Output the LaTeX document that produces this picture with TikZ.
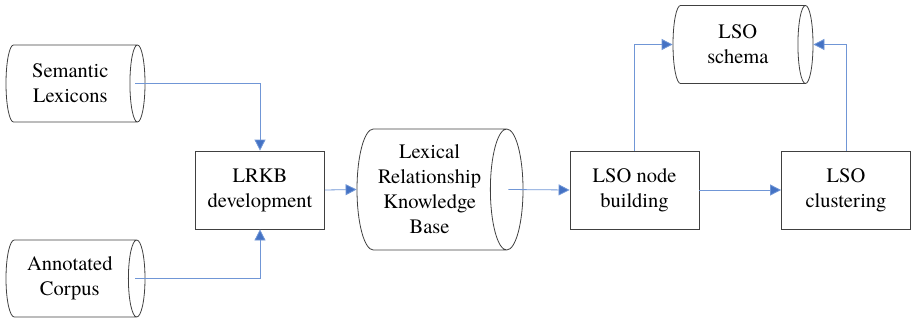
\documentclass[tikz,border=0pt]{standalone}
\usepackage{fontspec}
\setmainfont{texgyretermes-regular.otf}
\newfontfamily\lsofont{texgyretermes-regular.otf}
\usetikzlibrary{arrows.meta,positioning,shapes.geometric}
\definecolor{lsoline}{RGB}{112,150,214}
\definecolor{lsohead}{RGB}{68,114,196}
\definecolor{lsoedge}{RGB}{64,64,64}
\tikzset{
  procbox/.style={draw=lsoedge,line width=0.8pt,align=center,inner sep=2pt,
                  minimum width=129pt,minimum height=78pt,
                  font=\lsofont\fontsize{20.5}{25}\selectfont},
  % cylinder: minimum width is the diameter, minimum height the length
  store/.style={cylinder,shape aspect=0.35,anchor=shape center,draw=lsoedge,
                line width=0.8pt,align=center,inner sep=2pt,
                font=\lsofont\fontsize{20.5}{25}\selectfont},
  flowarr/.style={-{Triangle[length=11pt,width=11pt,fill=lsohead]},
                  draw=lsoline,line width=0.8pt},
}
\begin{document}
\begin{tikzpicture}[x=1pt,y=-1pt]
\useasboundingbox (0,0) rectangle (912,321);
% --- data stores ---
\node[store,minimum width=77pt,minimum height=139pt] (semlex) at (75.5,83.5)
 {Semantic\\Lexicons};
\node[store,minimum width=77pt,minimum height=139pt] (anncorp) at (75.5,278.5)
 {Annotated\\Corpus};
\node[store,minimum width=121pt,minimum height=166pt] (lrkbase) at (440,189.5)
 {Lexical\\Relationship\\Knowledge\\Base};
\node[store,minimum width=78pt,minimum height=140pt] (schema) at (743,44.5)
 {LSO\\schema};
% --- processing steps ---
\node[procbox] (lrkbdev) at (260,190) {LRKB\\development};
\node[procbox] (nodebuild) at (634.5,190) {LSO node\\building};
\node[procbox] (cluster) at (846,190) {LSO\\clustering};
% flow arrows
\draw[flowarr] ([xshift=-10pt]semlex.east) -| (lrkbdev.north);
\draw[flowarr] ([xshift=-10pt]anncorp.east) -| (lrkbdev.south);
\draw[flowarr] (lrkbdev.east) -- (lrkbase.west);
\draw[flowarr] ([xshift=-15pt]lrkbase.east) -- (nodebuild.west);
\draw[flowarr] (nodebuild.east) -- (cluster.west);
\draw[flowarr] (nodebuild.north) |- (schema.west);
\draw[flowarr] (cluster.north) |- (schema.east);
\end{tikzpicture}
\end{document}
